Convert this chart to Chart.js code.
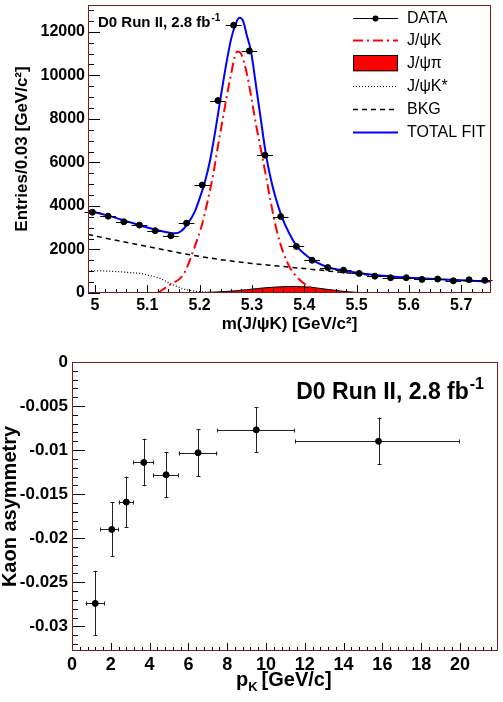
<!DOCTYPE html>
<html>
<head>
<meta charset="utf-8">
<title>D0 kaon asymmetry</title>
<script src="https://cdn.jsdelivr.net/npm/chart.js@4.4.1/dist/chart.umd.min.js"></script>
<style>
  html, body { margin: 0; padding: 0; background: #fff; }
  #wrap { position: relative; width: 503px; height: 702px; }
  canvas { position: absolute; left: 0; }
  #massChart { top: 0; }
  #asymChart { top: 345px; }
</style>
</head>
<body>
<div id="wrap">
  <canvas id="massChart" width="503" height="345"></canvas>
  <canvas id="asymChart" width="503" height="357"></canvas>
</div>
<script>
(function () {
  "use strict";

  // ---- top panel: m(J/psi K) distribution and fit components ----
  const massBins = [4.995, 5.025, 5.055, 5.085, 5.115, 5.145, 5.175, 5.205, 5.235, 5.265, 5.295, 5.325, 5.355,
    5.385, 5.415, 5.445, 5.475, 5.505, 5.535, 5.565, 5.595, 5.625, 5.655, 5.685, 5.715, 5.745];
  const massCounts = [3710, 3530, 3270, 3120, 2860, 2630, 3210, 4960, 8840, 12300, 11120, 6330, 3510,
    2140, 1505, 1170, 1050, 900, 775, 700, 700, 625, 640, 560, 607, 580];
  const massBinHalf = 0.015;
  const massYTicks = [0, 2000, 4000, 6000, 8000, 10000, 12000];

  const totalFitX = [4.987, 5.0, 5.03, 5.06, 5.09, 5.12, 5.14, 5.153, 5.165, 5.178, 5.19, 5.2, 5.21, 5.22, 5.23,
    5.24, 5.25, 5.26, 5.268, 5.276, 5.283, 5.29, 5.298, 5.309, 5.318, 5.327, 5.335, 5.345, 5.357, 5.37, 5.386,
    5.4, 5.42, 5.45, 5.48, 5.5, 5.55, 5.6, 5.65, 5.7, 5.757];
  const totalFitY = [3790, 3710, 3520, 3300, 3080, 2880, 2780, 2740, 2850, 3210, 3700, 4350, 5100, 6100, 7450,
    8950, 10400, 11650, 12300, 12640, 12500, 11850, 11120, 9320, 7800, 6330, 5350, 4400, 3510, 2800, 2140,
    1800, 1450, 1150, 1020, 930, 790, 705, 640, 585, 525];

  const jpsiKX = [5.12, 5.143, 5.169, 5.191, 5.204, 5.216, 5.226, 5.235, 5.245, 5.258, 5.272, 5.28, 5.29, 5.309,
    5.319, 5.327, 5.335, 5.347, 5.36, 5.373, 5.392, 5.411, 5.424, 5.45, 5.5];
  const jpsiKY = [0, 380, 850, 2150, 3100, 4300, 5450, 6750, 8100, 9800, 11090, 10950, 10100, 7580,
    6350, 5350, 4300, 2900, 1850, 1150, 590, 270, 140, 30, 0];

  const jpsiPiX = [5.15, 5.2, 5.25, 5.29, 5.32, 5.35, 5.38, 5.41, 5.44, 5.47, 5.5, 5.54];
  const jpsiPiY = [0, 20, 70, 150, 230, 280, 300, 270, 180, 90, 30, 0];

  const jpsiKstX = [4.987, 5.029, 5.067, 5.086, 5.105, 5.124, 5.15, 5.175, 5.2, 5.23, 5.27];
  const jpsiKstY = [1030, 1000, 940, 900, 800, 670, 370, 150, 60, 15, 0];

  const bkgX = [4.987, 5.04, 5.105, 5.16, 5.2, 5.25, 5.3, 5.35, 5.4, 5.45, 5.5, 5.55, 5.6, 5.65, 5.7, 5.757];
  const bkgY = [2690, 2420, 2110, 1850, 1680, 1500, 1360, 1240, 1120, 1000, 880, 785, 700, 635, 580, 520];

  // ---- bottom panel: kaon asymmetry vs p_K ----
  const pK = [1.2, 2.05, 2.8, 3.7, 4.85, 6.5, 9.5, 15.8];
  const pKLo = [0.7, 1.45, 2.4, 3.16, 4.18, 5.5, 7.5, 11.5];
  const pKHi = [1.7, 2.43, 3.2, 4.22, 5.52, 7.5, 11.5, 20.0];
  const kaonAsym = [-0.0274, -0.0190, -0.0159, -0.0114, -0.0128, -0.0103, -0.0077, -0.0090];
  const kaonAsymErr = [0.0037, 0.0031, 0.0029, 0.0027, 0.0026, 0.0027, 0.0026, 0.0027];

  const FONT = "'Liberation Sans', Arial, Helvetica, sans-serif";
  const RED = "#ff0000";
  const BLUE = "#0000ff";

  function xy(xs, ys) {
    return xs.map(function (x, i) {
      return { x: x, y: ys[i] };
    });
  }
  function cleanNum(v, d) {
    return String(Number(v.toFixed(d)));
  }

  // ROOT-like frame with inward major/minor ticks on the left and bottom axes
  const frameTicks = {
    id: "frameTicks",
    afterDatasetsDraw(chart, args, o) {
      const ctx = chart.ctx;
      const a = chart.chartArea;
      const sx = chart.scales.x;
      const sy = chart.scales.y;
      ctx.save();
      ctx.strokeStyle = "#000";
      ctx.lineWidth = 1;
      ctx.beginPath();
      let ratio = Math.round(o.xMajor / o.xMinor);
      for (let k = Math.ceil(sx.min / o.xMinor - 1e-6); k * o.xMinor <= sx.max + 1e-9; k++) {
        const px = Math.round(sx.getPixelForValue(k * o.xMinor)) + 0.5;
        const len = k % ratio === 0 ? o.xMajorLen : o.xMinorLen;
        ctx.moveTo(px, a.bottom);
        ctx.lineTo(px, a.bottom - len);
      }
      ratio = Math.round(o.yMajor / o.yMinor);
      for (let k = Math.ceil(sy.min / o.yMinor - 1e-6); k * o.yMinor <= sy.max + 1e-9; k++) {
        const py = Math.round(sy.getPixelForValue(k * o.yMinor)) + 0.5;
        const len = k % ratio === 0 ? o.yMajorLen : o.yMinorLen;
        ctx.moveTo(a.left, py);
        ctx.lineTo(a.left + len, py);
      }
      ctx.stroke();
      ctx.strokeStyle = o.frameColor;
      ctx.strokeRect(a.left + 0.5, a.top + 0.5, a.right - a.left - 1, a.bottom - a.top - 1);
      ctx.restore();
    },
  };

  // error bars stored on the dataset, drawn just before its markers
  const errorBars = {
    id: "errorBars",
    beforeDatasetDraw(chart, args, o) {
      const ds = chart.data.datasets[args.index];
      const eb = ds.errorBars;
      if (!eb) return;
      const ctx = chart.ctx;
      const sx = chart.scales.x;
      const sy = chart.scales.y;
      ctx.save();
      ctx.strokeStyle = o.color;
      ctx.lineWidth = 1;
      ctx.beginPath();
      ds.data.forEach(function (p, i) {
        const cy = Math.round(sy.getPixelForValue(p.y)) + 0.5;
        const cx = Math.round(sx.getPixelForValue(p.x)) + 0.5;
        if (eb.xLo) {
          const x0 = sx.getPixelForValue(eb.xLo[i]);
          const x1 = sx.getPixelForValue(eb.xHi[i]);
          ctx.moveTo(x0, cy);
          ctx.lineTo(x1, cy);
          if (o.cap) {
            ctx.moveTo(Math.round(x0) + 0.5, cy - o.cap);
            ctx.lineTo(Math.round(x0) + 0.5, cy + o.cap);
            ctx.moveTo(Math.round(x1) - 0.5, cy - o.cap);
            ctx.lineTo(Math.round(x1) - 0.5, cy + o.cap);
          }
        }
        if (eb.yErr) {
          const y0 = sy.getPixelForValue(p.y - eb.yErr[i]);
          const y1 = sy.getPixelForValue(p.y + eb.yErr[i]);
          ctx.moveTo(cx, y0);
          ctx.lineTo(cx, y1);
          if (o.cap) {
            ctx.moveTo(cx - o.cap, Math.round(y0) - 0.5);
            ctx.lineTo(cx + o.cap, Math.round(y0) - 0.5);
            ctx.moveTo(cx - o.cap, Math.round(y1) + 0.5);
            ctx.lineTo(cx + o.cap, Math.round(y1) + 0.5);
          }
        }
      });
      ctx.stroke();
      ctx.restore();
    },
  };

  function drawExpLabel(ctx, x, y, size, alignRight) {
    const main = "D0 Run II, 2.8 fb";
    const sup = "-1";
    const supSize = Math.round(size * 0.68);
    ctx.save();
    ctx.fillStyle = "#000";
    ctx.textBaseline = "alphabetic";
    ctx.textAlign = "left";
    ctx.font = "bold " + size + "px " + FONT;
    const w1 = ctx.measureText(main).width;
    ctx.font = "bold " + supSize + "px " + FONT;
    const w2 = ctx.measureText(sup).width;
    const x0 = alignRight ? x - w1 - w2 - 1 : x;
    ctx.font = "bold " + size + "px " + FONT;
    ctx.fillText(main, x0, y);
    ctx.font = "bold " + supSize + "px " + FONT;
    ctx.fillText(sup, x0 + w1 + 1, y - size * 0.42);
    ctx.restore();
  }

  // legend of the mass plot, built from the datasets themselves
  const massLegend = {
    id: "massLegend",
    afterDraw(chart, args, o) {
      const ctx = chart.ctx;
      ctx.save();
      chart.data.datasets.forEach(function (ds, i) {
        const y = Math.round(o.top + i * o.rowStep) + 0.5;
        const x0 = o.left;
        const x1 = o.left + o.symbolWidth;
        if (ds.fill) {
          ctx.fillStyle = ds.backgroundColor;
          ctx.fillRect(x0, y - 8, x1 - x0, 16);
          ctx.strokeStyle = "#000";
          ctx.lineWidth = 1;
          ctx.strokeRect(x0 + 0.5, y - 8, x1 - x0 - 1, 15);
        } else if (ds.showLine === false) {
          ctx.strokeStyle = "#000";
          ctx.lineWidth = 1;
          ctx.beginPath();
          ctx.moveTo(x0, y);
          ctx.lineTo(x1, y);
          ctx.stroke();
          ctx.fillStyle = "#000";
          ctx.beginPath();
          ctx.arc((x0 + x1) / 2, y, 3, 0, Math.PI * 2);
          ctx.fill();
        } else {
          ctx.strokeStyle = ds.borderColor;
          ctx.lineWidth = ds.borderWidth;
          ctx.setLineDash(ds.borderDash || []);
          ctx.beginPath();
          ctx.moveTo(x0, y);
          ctx.lineTo(x1, y);
          ctx.stroke();
          ctx.setLineDash([]);
        }
        ctx.fillStyle = "#000";
        ctx.font = o.fontSize + "px " + FONT;
        ctx.textBaseline = "middle";
        ctx.fillText(ds.label, o.textX, y);
      });
      drawExpLabel(ctx, 98, 27, 15, false);
      ctx.restore();
    },
  };

  const asymLabels = {
    id: "asymLabels",
    afterDraw(chart) {
      const ctx = chart.ctx;
      drawExpLabel(ctx, 484, 54, 23, true);
      // x axis title p_K [GeV/c]
      ctx.save();
      ctx.fillStyle = "#000";
      ctx.textBaseline = "alphabetic";
      ctx.font = "bold 20px " + FONT;
      const base = 341;
      let x = 236;
      ctx.fillText("p", x, base);
      x += ctx.measureText("p").width;
      ctx.font = "bold 13px " + FONT;
      ctx.fillText("K", x, base + 5);
      x += ctx.measureText("K").width + 4;
      ctx.font = "bold 20px " + FONT;
      ctx.fillText("[GeV/c]", x, base);
      ctx.restore();
    },
  };

  function axisFit(size, horizontal) {
    return function (s) {
      if (horizontal) s.height = size;
      else s.width = size;
      s.paddingTop = 0;
      s.paddingBottom = 0;
      s.paddingLeft = 0;
      s.paddingRight = 0;
    };
  }

  function curve(label, xs, ys, color, width, dash, order) {
    return {
      label: label,
      data: xy(xs, ys),
      borderColor: color,
      borderWidth: width,
      borderDash: dash,
      pointRadius: 0,
      fill: false,
      cubicInterpolationMode: "monotone",
      order: order,
    };
  }

  function drawMassChart() {
    const ctx = document.getElementById("massChart");
    return new Chart(ctx, {
      type: "line",
      data: {
        datasets: [
          {
            label: "DATA",
            data: xy(massBins, massCounts),
            showLine: false,
            pointRadius: 3,
            pointBackgroundColor: "#000",
            pointBorderColor: "#000",
            borderColor: "#000",
            order: 0,
            errorBars: {
              xLo: massBins.map(function (m) { return m - massBinHalf; }),
              xHi: massBins.map(function (m) { return m + massBinHalf; }),
            },
          },
          curve("J/ψK", jpsiKX, jpsiKY, RED, 2, [10, 4, 2, 4], 2),
          {
            label: "J/ψπ",
            data: xy(jpsiPiX, jpsiPiY),
            borderColor: "#000",
            borderWidth: 1,
            backgroundColor: RED,
            fill: "origin",
            pointRadius: 0,
            cubicInterpolationMode: "monotone",
            order: 5,
          },
          curve("J/ψK*", jpsiKstX, jpsiKstY, "#000", 1.2, [1, 2], 3),
          curve("BKG", bkgX, bkgY, "#000", 1.5, [5, 4], 4),
          curve("TOTAL FIT", totalFitX, totalFitY, BLUE, 2, [], 1),
        ],
      },
      options: {
        responsive: false,
        animation: false,
        devicePixelRatio: 1,
        layout: { padding: { top: 3, right: 12, bottom: 0, left: 0 } },
        plugins: {
          legend: { display: false },
          tooltip: { enabled: false },
          frameTicks: {
            xMajor: 0.1, xMinor: 0.02, yMajor: 2000, yMinor: 500,
            xMajorLen: 8, xMinorLen: 4, yMajorLen: 12, yMinorLen: 6,
            frameColor: "#7a1c1c",
          },
          errorBars: { color: "#000", cap: 0 },
          massLegend: { left: 353, symbolWidth: 45, textX: 407, top: 17.5, rowStep: 22.9, fontSize: 16 },
        },
        scales: {
          x: {
            type: "linear",
            min: 4.9866,
            max: 5.757,
            grid: { display: false, drawTicks: false },
            border: { display: false },
            afterFit: axisFit(52, true),
            ticks: {
              stepSize: 0.1,
              includeBounds: false,
              autoSkip: false,
              maxRotation: 0,
              padding: 3,
              color: "#000",
              font: { family: FONT, size: 16, weight: "bold" },
              callback: function (v) { return cleanNum(v, 2); },
            },
            title: {
              display: true,
              text: "m(J/ψK) [GeV/c²]",
              color: "#000",
              font: { family: FONT, size: 17, weight: "bold" },
              padding: { top: 0, bottom: 10 },
            },
          },
          y: {
            min: 0,
            max: 13230,
            grid: { display: false, drawTicks: false },
            border: { display: false },
            afterFit: axisFit(88, false),
            afterBuildTicks: function (s) {
              s.ticks = massYTicks.map(function (v) { return { value: v }; });
            },
            ticks: {
              autoSkip: false,
              padding: 3,
              color: "#000",
              font: { family: FONT, size: 16, weight: "bold" },
              callback: function (v) { return String(v); },
            },
            title: {
              display: true,
              text: "Entries/0.03 [GeV/c²]",
              color: "#000",
              font: { family: FONT, size: 17, weight: "bold" },
              padding: { top: 12, bottom: 0 },
            },
          },
        },
      },
      plugins: [frameTicks, errorBars, massLegend],
    });
  }

  function drawAsymChart() {
    const ctx = document.getElementById("asymChart");
    return new Chart(ctx, {
      type: "scatter",
      data: {
        datasets: [
          {
            label: "Kaon asymmetry",
            data: xy(pK, kaonAsym),
            pointRadius: 3,
            pointBackgroundColor: "#000",
            pointBorderColor: "#000",
            errorBars: { xLo: pKLo, xHi: pKHi, yErr: kaonAsymErr },
          },
        ],
      },
      options: {
        responsive: false,
        animation: false,
        devicePixelRatio: 1,
        layout: { padding: { top: 17, right: 3, bottom: 0, left: 0 } },
        plugins: {
          legend: { display: false },
          tooltip: { enabled: false },
          frameTicks: {
            xMajor: 2, xMinor: 0.4, yMajor: 0.005, yMinor: 0.001,
            xMajorLen: 8, xMinorLen: 4, yMajorLen: 13, yMinorLen: 6,
            frameColor: "#7a1c1c",
          },
          errorBars: { color: "#222", cap: 2 },
        },
        scales: {
          x: {
            type: "linear",
            min: 0,
            max: 21.96,
            grid: { display: false, drawTicks: false },
            border: { display: false },
            afterFit: axisFit(51, true),
            ticks: {
              stepSize: 2,
              includeBounds: false,
              autoSkip: false,
              maxRotation: 0,
              padding: 3,
              color: "#000",
              font: { family: FONT, size: 18, weight: "bold" },
              callback: function (v) { return cleanNum(v, 1); },
            },
          },
          y: {
            min: -0.0328,
            max: 0,
            grid: { display: false, drawTicks: false },
            border: { display: false },
            afterFit: axisFit(72, false),
            ticks: {
              stepSize: 0.005,
              includeBounds: false,
              padding: 4,
              color: "#000",
              font: { family: FONT, size: 17, weight: "bold" },
              callback: function (v) { return cleanNum(v, 4); },
            },
            title: {
              display: true,
              text: "Kaon asymmetry",
              color: "#000",
              font: { family: FONT, size: 20, weight: "bold", lineHeight: 1 },
              padding: { top: 0, bottom: 0 },
            },
          },
        },
      },
      plugins: [frameTicks, errorBars, asymLabels],
    });
  }

  drawMassChart();
  drawAsymChart();
})();
</script>
</body>
</html>
